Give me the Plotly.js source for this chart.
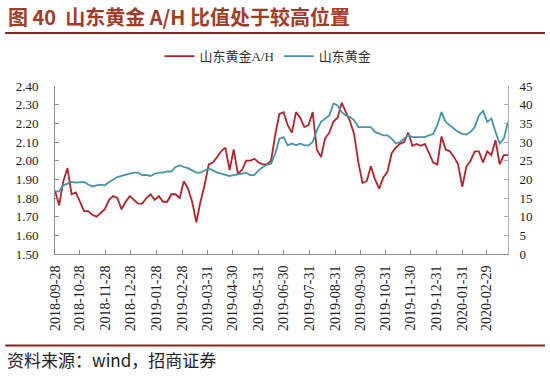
<!DOCTYPE html>
<html>
<head>
<meta charset="utf-8">
<script src="https://cdn.plot.ly/plotly-3.0.1.min.js"></script>
<style>
html,body{margin:0;padding:0;background:#fff;}
#chart{width:550px;height:376px;}
</style>
</head>
<body>
<div id="chart"></div>
<script>
// ---- data ----
const dates = [
'2018-09-28','2018-10-03','2018-10-08','2018-10-13','2018-10-18','2018-10-23','2018-10-28','2018-11-02','2018-11-07','2018-11-12',
'2018-11-17','2018-11-22','2018-11-27','2018-12-02','2018-12-07','2018-12-12','2018-12-17','2018-12-22','2018-12-27','2019-01-01',
'2019-01-06','2019-01-11','2019-01-16','2019-01-21','2019-01-26','2019-01-31','2019-02-05','2019-02-10','2019-02-15','2019-02-20',
'2019-02-25','2019-03-02','2019-03-07','2019-03-12','2019-03-17','2019-03-22','2019-03-27','2019-04-01','2019-04-06','2019-04-11',
'2019-04-16','2019-04-21','2019-04-26','2019-05-01','2019-05-06','2019-05-11','2019-05-16','2019-05-21','2019-05-26','2019-05-31',
'2019-06-05','2019-06-10','2019-06-15','2019-06-20','2019-06-25','2019-06-30','2019-07-05','2019-07-10','2019-07-15','2019-07-20',
'2019-07-25','2019-07-30','2019-08-04','2019-08-09','2019-08-14','2019-08-19','2019-08-24','2019-08-29','2019-09-03','2019-09-08',
'2019-09-13','2019-09-18','2019-09-23','2019-09-28','2019-10-03','2019-10-08','2019-10-13','2019-10-18','2019-10-23','2019-10-28',
'2019-11-02','2019-11-07','2019-11-12','2019-11-17','2019-11-22','2019-11-27','2019-12-02','2019-12-07','2019-12-12','2019-12-17',
'2019-12-22','2019-12-27','2020-01-01','2020-01-06','2020-01-11','2020-01-16','2020-01-21','2020-01-26','2020-01-31','2020-02-05',
'2020-02-10','2020-02-15','2020-02-20','2020-02-25','2020-03-01','2020-03-06','2020-03-11','2020-03-16','2020-03-21','2020-03-26'
];
const ahRatio = [
1.84,1.76,1.89,1.96,1.82,1.83,1.78,1.73,1.73,1.71,
1.70,1.72,1.74,1.79,1.81,1.80,1.74,1.78,1.81,1.79,
1.77,1.77,1.80,1.82,1.79,1.81,1.78,1.78,1.82,1.82,
1.80,1.89,1.85,1.78,1.67,1.78,1.87,1.98,1.99,2.02,
2.05,2.07,1.95,2.06,1.93,1.95,2.00,2.00,2.01,1.99,
1.98,1.98,2.00,2.14,2.25,2.26,2.19,2.15,2.26,2.23,
2.18,2.19,2.26,2.06,2.02,2.12,2.15,2.21,2.23,2.31,
2.26,2.21,2.14,1.99,1.88,1.89,1.97,1.90,1.85,1.91,
1.94,2.04,2.07,2.09,2.10,2.15,2.08,2.09,2.08,2.09,
2.04,1.99,1.98,2.13,2.06,2.05,2.02,1.98,1.86,1.97,
2.00,2.05,2.05,1.99,2.05,2.03,2.11,1.98,2.03,2.03
];
const aPrice = [
16.8,16.8,18.4,18.8,19.3,19.1,19.3,19.3,18.6,18.1,
18.4,18.6,18.4,19.3,19.9,20.6,20.9,21.1,21.5,21.8,
21.8,21.1,21.2,20.9,21.5,21.8,21.8,22.1,22.1,23.3,
23.7,23.3,23.0,22.4,21.8,21.8,22.4,22.9,22.4,21.8,
21.5,21.2,20.9,21.1,21.2,21.5,21.8,21.1,21.2,22.4,
23.3,23.9,24.2,26.9,30.9,31.3,29.1,29.6,29.1,29.6,
29.1,29.1,30.0,33.1,35.4,36.2,37.1,40.3,39.8,38.0,
37.1,36.7,35.8,34.0,34.0,34.0,34.0,32.7,32.2,31.8,
31.8,30.9,29.6,30.0,30.9,31.8,31.3,31.3,31.3,31.3,
31.8,32.2,34.5,38.0,35.4,34.5,33.6,32.7,32.2,32.0,
32.7,34.0,37.1,38.3,35.4,36.3,32.7,29.6,30.9,35.5
];
const tickDates = ['2018-09-28','2018-10-28','2018-11-28','2018-12-28','2019-01-28','2019-02-28','2019-03-31','2019-04-30','2019-05-31','2019-06-30','2019-07-31','2019-08-31','2019-09-30','2019-10-31','2019-11-30','2019-12-31','2020-01-31','2020-02-29'];
const tickLabels = tickDates.slice();
const leftTicks = [1.5,1.6,1.7,1.8,1.9,2.0,2.1,2.2,2.3,2.4];
const rightTicks = [0,5,10,15,20,25,30,35,40,45];
const seriesNames = ['山东黄金A/H','山东黄金'];
const titleText = '图 40  山东黄金 A/H 比值处于较高位置';
const sourceText = '资料来源：wind，招商证券';

// ---- chart ----
const serif = 'Liberation Serif, "Times New Roman", "Noto Sans CJK SC", serif';
const axisCol = '#8c8c8c';
const traces = [
  {x: dates, y: ahRatio, name: seriesNames[0], type: 'scatter', mode: 'lines',
   line: {color: '#B5222B', width: 1.8}, yaxis: 'y'},
  {x: dates, y: aPrice, name: seriesNames[1], type: 'scatter', mode: 'lines',
   line: {color: '#4595A6', width: 1.8}, yaxis: 'y2'}
];
const layout = {
  width: 550, height: 376,
  margin: {l: 55, r: 42, t: 86, b: 122, pad: 0},
  paper_bgcolor: '#fff', plot_bgcolor: '#fff',
  showlegend: true,
  legend: {orientation: 'h', x: 0.47, xanchor: 'center', y: 1.177, yanchor: 'middle',
           font: {family: serif, size: 13, color: '#333'}, itemwidth: 30, tracegroupgap: 0, bgcolor: 'rgba(0,0,0,0)'},
  xaxis: {type: 'date', range: ['2018-09-28', '2020-03-26'],
          tickmode: 'array', tickvals: tickDates, ticktext: tickLabels, tickangle: -90,
          tickfont: {family: serif, size: 14, color: '#222'},
          showline: true, linecolor: axisCol, linewidth: 1, ticks: 'inside', ticklen: 4, tickcolor: axisCol,
          showgrid: false, zeroline: false, ticklabelstandoff: 5},
  yaxis: {range: [1.5, 2.4], tickmode: 'array', tickvals: leftTicks, tickformat: '.2f',
          tickfont: {family: serif, size: 13, color: '#222'},
          showline: true, linecolor: axisCol, linewidth: 1, ticks: 'inside', ticklen: 4, tickcolor: axisCol,
          showgrid: false, zeroline: false, ticklabelstandoff: 13},
  yaxis2: {range: [0, 45], overlaying: 'y', side: 'right', tickmode: 'array', tickvals: rightTicks,
           tickfont: {family: serif, size: 13, color: '#222'},
           showline: true, linecolor: '#b0b0b0', linewidth: 1, ticks: 'inside', ticklen: 4, tickcolor: '#b0b0b0',
           showgrid: false, zeroline: false, ticklabelstandoff: 8},
  shapes: [
    {type: 'line', xref: 'paper', yref: 'paper', x0: -0.110, x1: 1.0817, y0: 1.316, y1: 1.316,
     line: {color: '#8E1F1F', width: 2}},
    {type: 'line', xref: 'paper', yref: 'paper', x0: -0.110, x1: 1.0817, y0: -0.545, y1: -0.545,
     line: {color: '#8E1F1F', width: 2}}
  ],
  annotations: [
    {text: '<b>' + titleText + '</b>', xref: 'paper', yref: 'paper', x: -0.108, y: 1.412,
     xanchor: 'left', yanchor: 'middle', showarrow: false,
     font: {family: '"Noto Sans CJK SC", sans-serif', size: 20, color: '#A33B26'}},
    {text: sourceText, xref: 'paper', yref: 'paper', x: -0.11, y: -0.627,
     xanchor: 'left', yanchor: 'middle', showarrow: false,
     font: {family: '"Noto Sans CJK SC", sans-serif', size: 17, color: '#222'}}
  ]
};
Plotly.newPlot('chart', traces, layout, {staticPlot: true, displayModeBar: false});
</script>
</body>
</html>
